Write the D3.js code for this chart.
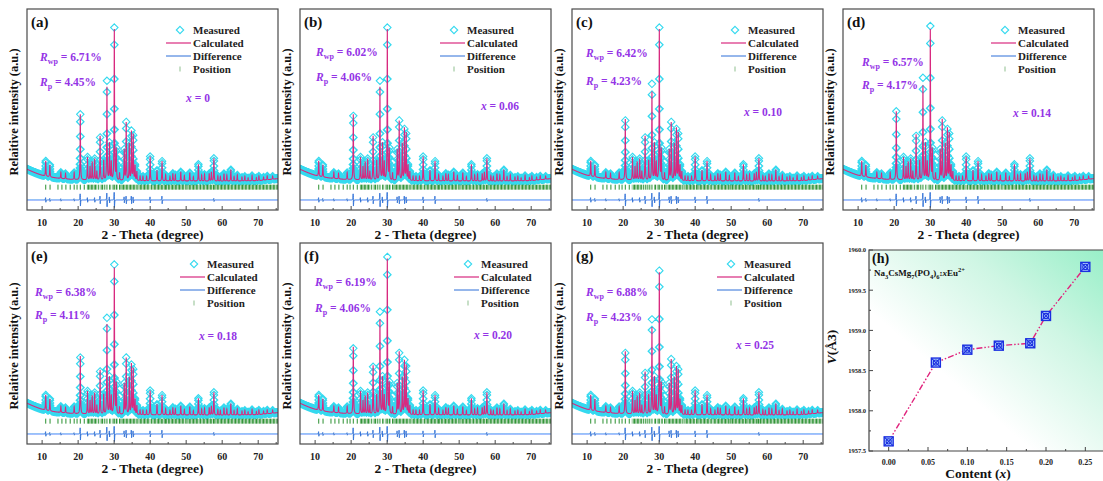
<!DOCTYPE html>
<html><head><meta charset="utf-8">
<script src="https://cdn.jsdelivr.net/npm/d3@7"></script>
<style>
body{margin:0;background:#fff}
svg{display:block}
text{font-family:"Liberation Serif","Times New Roman",serif;font-weight:bold}
</style>
</head><body>
<svg id="fig" width="1103" height="481"></svg>
<script>
// ---------- data: Rietveld refinement of Na3CsMg7(PO4)6:xEu2+ ----------
const panelTags = ["(a)", "(b)", "(c)", "(d)", "(e)", "(f)", "(g)"];
const contentLabels = ["0", "0.06", "0.10", "0.14", "0.18", "0.20", "0.25"];
const rwpValues = ["6.71", "6.02", "6.42", "6.57", "6.38", "6.19", "6.88"];
const rpValues = ["4.45", "4.06", "4.23", "4.17", "4.11", "4.06", "4.23"];

// strongest reflections (2θ) and their intensities per sample
const mainPeakPos = [20.6, 26.1, 28.0, 30.05, 33.35, 34.8, 35.3];
const calcMain = [
  [43, 29, 61, 99, 38, 32, 30],
  [43, 29, 61, 99, 39, 34, 31],
  [40, 29, 58, 99, 38, 34, 31],
  [45, 30, 62, 99, 40, 34, 31],
  [38, 29, 59, 96, 37, 33, 30],
  [44, 32, 62, 102, 41, 35, 32],
  [41, 28, 57, 93, 36, 31, 29]
];
const measMain = [
  [43, 28, 65, 100, 38, 32, 29],
  [42, 28, 65, 100, 39, 33, 30],
  [39, 28, 63, 100, 38, 33, 30],
  [45, 29, 67, 101, 39, 33, 30],
  [37, 28, 63, 98, 37, 32, 29],
  [43, 31, 67, 103, 40, 35, 31],
  [40, 27, 62, 94, 36, 31, 29]
];
// weaker reflections shared by all samples
const minorPeakPos = [11.0, 12.15, 15.2, 16.5, 18.9, 22.6, 23.3, 23.9, 24.6, 25.2, 27.1, 28.7, 29.2,
  30.6, 31.5, 32.8, 34.2, 35.8, 36.3, 37.2, 38.0, 39.0, 40.0, 41.9, 43.3, 44.3, 45.5, 46.3, 47.0,
  48.5, 49.5, 51.0, 52.0, 53.4, 54.3, 55.1, 56.4, 57.0, 57.7, 58.8, 59.5, 60.5, 61.3, 62.4, 63.3,
  64.2, 65.5, 66.3, 67.2, 68.3, 69.5, 70.2, 71.5, 72.5, 74.0];
const minorPeakInt = [10, 8, 4, 3.5, 4.5, 15, 9, 12, 14, 6, 13, 24, 12,
  20, 5, 20, 24, 10, 6, 3, 3, 3, 16, 7, 13, 4, 3, 5, 4,
  6, 3.5, 5.5, 3, 11, 4, 4.5, 5, 6, 15, 3.5, 3, 5, 4, 7.5, 3,
  4, 2.5, 3, 2, 3.5, 2, 3, 2, 2.5, 2];
// background
const bgTheta = [5.8, 7, 8, 9, 10, 11, 12, 14, 16, 18, 20, 25, 30, 40, 50, 60, 70, 75.5];
const bgInt = [7.8, 6.5, 5.5, 4.6, 3.8, 3.2, 2.7, 2.0, 1.5, 1.1, 0.8, 0.4, 0.2, 0, 0, -0.2, 0.2, 1.6];
// difference curve features
const diffPos = [11.0, 12.15, 15.2, 18.9, 20.6, 22.6, 24.6, 26.1, 28.0, 28.7, 30.05, 32.8, 33.35, 34.8, 35.3, 40.0, 43.3, 57.7];
const diffAmp = [1.5, 1.0, 0.8, 0.8, 4.0, 1.5, 1.5, 2.5, 4.5, 2.0, 5.0, 2.0, 2.5, 2.5, 2.0, 2.0, 2.5, 1.0];
// Bragg positions
const braggSingles = [11.0, 12.2, 14.4, 15.5, 16.6, 17.8, 18.9, 19.7, 20.6, 21.7, 25.6, 27.4, 28.0,
  29.7, 30.05, 31.5, 31.9, 36.6, 40.4, 44.6, 49.9, 54.0, 57.6];
const braggBands = [[22.4, 25.2], [26.0, 27.0], [28.6, 29.2], [30.4, 31.0], [32.2, 36.4], [36.9, 40.1],
  [40.6, 44.4], [44.9, 49.6], [50.1, 53.8], [54.2, 57.4], [57.8, 75.5]];
const thetaTicks = [10, 20, 30, 40, 50, 60, 70];
const thetaMinor = [15, 25, 35, 45, 55, 65, 75];
const legendLabels = ["Measured", "Calculated", "Difference", "Position"];

// cell volume vs Eu content
const contentX = [0, 0.06, 0.10, 0.14, 0.18, 0.20, 0.25];
const cellVolume = [1957.62, 1958.60, 1958.76, 1958.81, 1958.84, 1959.18, 1959.79];
const volTicks = [1957.5, 1958.0, 1958.5, 1959.0, 1959.5, 1960.0];
const contentTicks = [0, 0.05, 0.10, 0.15, 0.20, 0.25];

// ---------- layout ----------
const W = 251, H = 201;
const frames = [{x: 27, y: 9}, {x: 300, y: 9}, {x: 572, y: 9}, {x: 843, y: 9},
  {x: 27, y: 243}, {x: 300, y: 243}, {x: 572, y: 243}];
const legendDx = [166, 167, 176, 175, 180, 181, 172];
const rDx = [13, 16, 14, 19, 8, 15, 14];
const rwpDy = [48, 43, 44, 53, 49, 39, 49];
const rpDy = [73, 68, 72, 76, 72, 65, 74];
const xLabelPos = [[171, 89], [200, 97], [191, 103], [189, 104], [191, 93], [193, 92], [183, 102]];

const C_MEAS = "#34d9ef", C_CALC = "#d8297f", C_DIFF = "#2c6fd8", C_POS = "#2a9030", C_TXT = "#9434e6";
const DIFF_LEVEL = -12.4, POS_LEVEL = -4;
const HW = 0.07;

const svg = d3.select("#fig");
const defs = svg.append("defs");
const pat = defs.append("pattern").attr("id", "braggHatch").attr("patternUnits", "userSpaceOnUse")
  .attr("width", 1.4).attr("height", 10);
pat.append("rect").attr("width", 0.9).attr("height", 10).attr("fill", C_POS);

const bgScale = d3.scaleLinear().domain(bgTheta).range(bgInt);
const lor = t => 1 / (1 + t * t);

function profile(x, mains) {
  let s = bgScale(x);
  for (let k = 0; k < mainPeakPos.length; k++) s += mains[k] * lor((x - mainPeakPos[k]) / HW);
  for (let k = 0; k < minorPeakPos.length; k++) s += minorPeakInt[k] * lor((x - minorPeakPos[k]) / HW);
  return s;
}
function difference(x) {
  let s = 0;
  for (let k = 0; k < diffPos.length; k++) {
    const t = (x - diffPos[k]) / HW;
    s += diffAmp[k] * (-2 * t / ((1 + t * t) ** 2)) / 0.6495;
  }
  return DIFF_LEVEL + s;
}

const fineGrid = d3.range(5.8, 75.5, 0.01);
const stepGrid = d3.range(0, 2789).map(i => 5.8 + i * 0.025);

function diamondPath(cx, cy, r) {
  return `M${cx},${cy - r}L${cx + r},${cy}L${cx},${cy + r}L${cx - r},${cy}Z`;
}

frames.forEach((f, i) => {
  const g = svg.append("g");
  const x = d3.scaleLinear().domain([5.8, 75.5]).range([f.x, f.x + W]);
  const y = d3.scaleLinear().domain([-19, 113]).range([f.y + H, f.y]);

  const clipId = "clip" + i;
  defs.append("clipPath").attr("id", clipId).append("rect")
    .attr("x", f.x).attr("y", f.y).attr("width", W).attr("height", H);
  const plot = g.append("g").attr("clip-path", `url(#${clipId})`);

  // measured points
  let dMeas = "";
  stepGrid.forEach(t => { dMeas += diamondPath(x(t), y(profile(t, measMain[i])), 3.7); });
  plot.append("path").attr("d", dMeas).attr("fill", "none").attr("stroke", C_MEAS).attr("stroke-width", 1.1);

  // calculated profile
  const line = d3.line().x(d => x(d[0])).y(d => y(d[1]));
  plot.append("path").datum(fineGrid.map(t => [t, profile(t, calcMain[i])]))
    .attr("d", line).attr("fill", "none").attr("stroke", C_CALC).attr("stroke-width", 1.1);

  // Bragg positions
  const y0 = y(POS_LEVEL) - 2.5;
  plot.selectAll(".bs").data(braggSingles).join("line")
    .attr("x1", d => x(d)).attr("x2", d => x(d)).attr("y1", y0).attr("y2", y0 + 5)
    .attr("stroke", C_POS).attr("stroke-width", 1);
  plot.selectAll(".bb").data(braggBands).join("rect")
    .attr("x", d => x(d[0])).attr("width", d => x(d[1]) - x(d[0]))
    .attr("y", y0).attr("height", 5).attr("fill", "url(#braggHatch)");

  // difference
  plot.append("path").datum(fineGrid.map(t => [t, difference(t)]))
    .attr("d", line).attr("fill", "none").attr("stroke", C_DIFF).attr("stroke-width", 1);

  // frame
  g.append("rect").attr("x", f.x).attr("y", f.y).attr("width", W).attr("height", H)
    .attr("fill", "none").attr("stroke", "#4a4a4a").attr("stroke-width", 1.2);

  // x axis ticks (inward) and labels
  g.selectAll(".tk").data(thetaTicks).join("line")
    .attr("x1", d => x(d)).attr("x2", d => x(d)).attr("y1", f.y + H).attr("y2", f.y + H - 4)
    .attr("stroke", "#4a4a4a").attr("stroke-width", 1);
  g.selectAll(".tm").data(thetaMinor).join("line")
    .attr("x1", d => x(d)).attr("x2", d => x(d)).attr("y1", f.y + H).attr("y2", f.y + H - 2)
    .attr("stroke", "#4a4a4a").attr("stroke-width", 1);
  g.selectAll(".tl").data(thetaTicks).join("text")
    .attr("x", d => x(d)).attr("y", f.y + H + 16).attr("text-anchor", "middle")
    .attr("font-size", 10).attr("fill", "#222").text(d => d);

  g.append("text").attr("x", f.x + W / 2).attr("y", f.y + H + 29).attr("text-anchor", "middle")
    .attr("font-size", 13.5).attr("fill", "#111").text("2 - Theta (degree)");
  g.append("text").attr("transform", `translate(${f.x - 9},${f.y + 103}) rotate(-90)`)
    .attr("text-anchor", "middle").attr("font-size", 12.5).attr("fill", "#111")
    .text("Relaitive intensity (a.u.)");

  // panel tag
  g.append("text").attr("x", f.x + 4).attr("y", f.y + 18).attr("font-size", 15).attr("fill", "#111")
    .text(panelTags[i]);

  // agreement factors
  const rw = g.append("text").attr("x", f.x + rDx[i]).attr("y", f.y + rwpDy[i] + 4)
    .attr("font-size", 11.5).attr("fill", C_TXT);
  rw.append("tspan").attr("font-style", "italic").text("R");
  rw.append("tspan").attr("font-size", 8).attr("dy", 3).text("wp");
  rw.append("tspan").attr("dy", -3).text(` = ${rwpValues[i]}%`);
  const rpT = g.append("text").attr("x", f.x + rDx[i]).attr("y", f.y + rpDy[i] + 4)
    .attr("font-size", 11.5).attr("fill", C_TXT);
  rpT.append("tspan").attr("font-style", "italic").text("R");
  rpT.append("tspan").attr("font-size", 8).attr("dy", 3).text("p");
  rpT.append("tspan").attr("dy", -3).text(` = ${rpValues[i]}%`);

  const xl = g.append("text").attr("x", f.x + xLabelPos[i][0]).attr("y", f.y + xLabelPos[i][1] + 4)
    .attr("text-anchor", "middle").attr("font-size", 11.5).attr("fill", C_TXT);
  xl.append("tspan").attr("font-style", "italic").text("x");
  xl.append("tspan").text(` = ${contentLabels[i]}`);

  // legend
  const lx = f.x + legendDx[i];
  const rows = [21, 34, 47, 60];
  legendLabels.forEach((lab, k) => {
    const ly = f.y + rows[k];
    g.append("text").attr("x", lx).attr("y", ly + 4).attr("font-size", 11).attr("fill", "#222").text(lab);
  });
  g.append("path").attr("d", diamondPath(lx - 13, f.y + rows[0], 3.7))
    .attr("fill", "none").attr("stroke", C_MEAS).attr("stroke-width", 1.1);
  g.append("line").attr("x1", lx - 27).attr("x2", lx - 2).attr("y1", f.y + rows[1]).attr("y2", f.y + rows[1])
    .attr("stroke", C_CALC).attr("stroke-width", 1.2);
  g.append("line").attr("x1", lx - 27).attr("x2", lx - 2).attr("y1", f.y + rows[2]).attr("y2", f.y + rows[2])
    .attr("stroke", C_DIFF).attr("stroke-width", 1);
  g.append("line").attr("x1", lx - 13).attr("x2", lx - 13).attr("y1", f.y + rows[3] - 2.5).attr("y2", f.y + rows[3] + 2.5)
    .attr("stroke", "#8fbf8f").attr("stroke-width", 1);
});

// ---------- panel (h): cell volume ----------
(function () {
  const L = 869, T = 250, B = 451, R = 1103;
  const x = d3.scaleLinear().domain([-0.025, 0.275]).range([L, 1105]);
  const y = d3.scaleLinear().domain([1957.5, 1960]).range([B, T]);
  const g = svg.append("g");

  const grad = defs.append("linearGradient").attr("id", "volBg")
    .attr("x1", 0).attr("y1", 1).attr("x2", 1).attr("y2", 0);
  grad.append("stop").attr("offset", "0").attr("stop-color", "#ffffff");
  grad.append("stop").attr("offset", "0.35").attr("stop-color", "#ffffff");
  grad.append("stop").attr("offset", "0.7").attr("stop-color", "#cff6e4");
  grad.append("stop").attr("offset", "1").attr("stop-color", "#98efc8");
  g.append("rect").attr("x", L).attr("y", T).attr("width", R - L).attr("height", B - T).attr("fill", "url(#volBg)");

  // axes
  g.append("path").attr("d", `M${R},${T}H${L}V${B}H${R}`).attr("fill", "none")
    .attr("stroke", "#444").attr("stroke-width", 1.2);
  const yMinor = d3.range(1957.5, 1960.01, 0.25);
  g.selectAll(".ym").data(yMinor).join("line")
    .attr("x1", L).attr("x2", d => L + (volTicks.some(v => Math.abs(v - d) < 1e-6) ? 4 : 2))
    .attr("y1", d => y(d)).attr("y2", d => y(d)).attr("stroke", "#444");
  g.selectAll(".yl").data(volTicks).join("text")
    .attr("x", L - 3).attr("y", d => y(d) + 2.3).attr("text-anchor", "end")
    .attr("font-size", 6.5).attr("fill", "#222").text(d => d.toFixed(1));
  const xMinor = d3.range(0, 0.2751, 0.025);
  g.selectAll(".xm").data(xMinor).join("line")
    .attr("x1", d => x(d)).attr("x2", d => x(d)).attr("y1", B)
    .attr("y2", d => B - (contentTicks.some(v => Math.abs(v - d) < 1e-6) ? 4 : 2))
    .attr("stroke", "#444");
  g.selectAll(".xl").data(contentTicks).join("text")
    .attr("x", d => x(d)).attr("y", B + 14).attr("text-anchor", "middle")
    .attr("font-size", 8).attr("fill", "#222").text(d => d.toFixed(2));

  const xt = g.append("text").attr("x", 978).attr("y", 478).attr("text-anchor", "middle")
    .attr("font-size", 13.5).attr("fill", "#111");
  xt.append("tspan").text("Content (");
  xt.append("tspan").attr("font-style", "italic").text("x");
  xt.append("tspan").text(")");

  const yt = g.append("text").attr("transform", `translate(836,347) rotate(-90)`)
    .attr("text-anchor", "middle").attr("font-size", 13.5).attr("fill", "#111");
  yt.append("tspan").attr("font-style", "italic").text("V");
  yt.append("tspan").text("(Å3)");

  g.append("text").attr("x", L + 3).attr("y", T + 13).attr("font-size", 14).attr("fill", "#111").text("(h)");

  const fm = g.append("text").attr("x", 874).attr("y", 276).attr("font-size", 9).attr("fill", "#111");
  fm.append("tspan").text("Na");
  fm.append("tspan").attr("font-size", 6.5).attr("dy", 2.5).text("3");
  fm.append("tspan").attr("dy", -2.5).text("CsMg");
  fm.append("tspan").attr("font-size", 6.5).attr("dy", 2.5).text("7");
  fm.append("tspan").attr("dy", -2.5).text("(PO");
  fm.append("tspan").attr("font-size", 6.5).attr("dy", 2.5).text("4");
  fm.append("tspan").attr("dy", -2.5).text(")");
  fm.append("tspan").attr("font-size", 6.5).attr("dy", 2.5).text("6");
  fm.append("tspan").attr("dy", -2.5).text(":");
  fm.append("tspan").attr("font-style", "italic").text("x");
  fm.append("tspan").text("Eu");
  fm.append("tspan").attr("font-size", 6.5).attr("dy", -4).text("2+");

  const pts = contentX.map((c, k) => [c, cellVolume[k]]);
  g.append("path").datum(pts)
    .attr("d", d3.line().x(d => x(d[0])).y(d => y(d[1])))
    .attr("fill", "none").attr("stroke", "#e0227c").attr("stroke-width", 1.4)
    .attr("stroke-dasharray", "6,2,1.5,2,1.5,2");

  const mk = g.selectAll(".mk").data(pts).join("g")
    .attr("transform", d => `translate(${x(d[0])},${y(d[1])})`);
  const s = 4.5;
  mk.append("rect").attr("x", -s).attr("y", -s).attr("width", 2 * s).attr("height", 2 * s)
    .attr("fill", "#b3d6ff").attr("stroke", "#1b2fe0").attr("stroke-width", 1.4);
  mk.append("path").attr("d", `M${-s},${-s}L${s},${s}M${s},${-s}L${-s},${s}`)
    .attr("stroke", "#1b2fe0").attr("stroke-width", 1.1);
  mk.append("circle").attr("r", 2.6).attr("fill", "none").attr("stroke", "#1b2fe0").attr("stroke-width", 1.1);
})();
</script>
</body></html>
